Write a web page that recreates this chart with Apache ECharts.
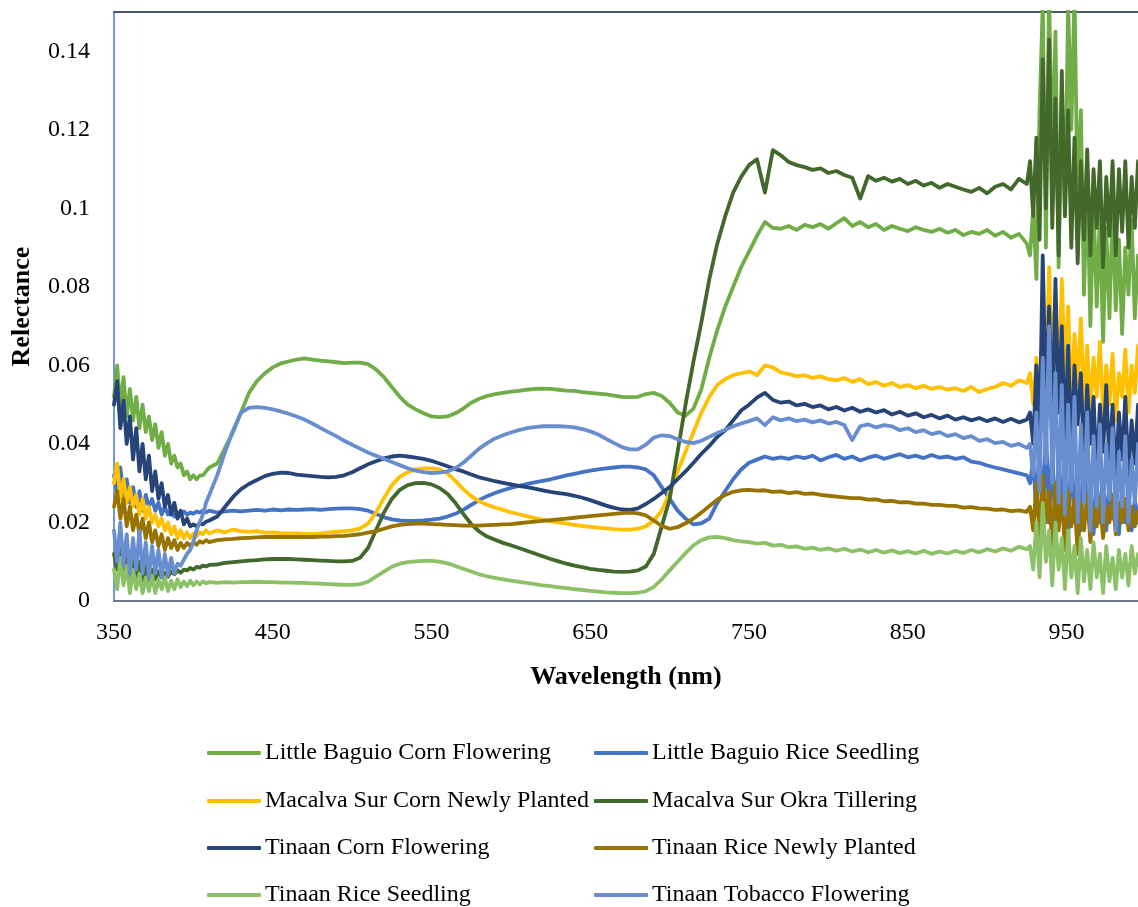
<!DOCTYPE html>
<html>
<head>
<meta charset="utf-8">
<script src="https://cdn.jsdelivr.net/npm/echarts@6/dist/echarts.min.js"></script>
<style>html,body{margin:0;padding:0;background:#fff}#chart{width:1138px;height:907px}</style>
</head>
<body>
<div id="chart"></div>
<script>
// Wavelengths (nm): dense steps in the noisy ends, 5 nm steps in the middle
const wavelengths = [
350,352,354,356,358,360,362,364,366,368,370,372,374,376,378,380,382,384,386,388,390,392,394,396,398,400,402,404,406,408,410,
415,420,425,430,435,440,445,450,455,460,465,470,475,480,485,490,495,500,505,510,
515,520,525,530,535,540,545,550,555,560,565,570,575,580,585,590,595,600,605,610,
615,620,625,630,635,640,645,650,655,660,665,670,675,680,685,690,695,700,705,710,
715,720,725,730,735,740,745,750,755,760,765,770,775,780,785,790,795,800,805,810,
815,820,825,830,835,840,845,850,855,860,865,870,875,880,885,890,895,900,905,910,
915,920,925,
927,929,931,933,935,937,939,941,943,945,947,949,951,953,955,957,959,961,963,965,
967,969,971,973,975,977,979,981,983,985,987,989,991,993,995
];

const seriesNames = [
  'Little Baguio Corn Flowering', 'Little Baguio Rice Seedling',
  'Macalva Sur Corn Newly Planted', 'Macalva Sur Okra Tillering',
  'Tinaan Corn Flowering', 'Tinaan Rice Newly Planted',
  'Tinaan Rice Seedling', 'Tinaan Tobacco Flowering'
];

const littleBaguioCornFlowering = [
.052,.060,.049,.057,.047,.054,.046,.052,.044,.050,
.043,.047,.041,.045,.039,.043,.037,.040,.035,.037,
.034,.035,.032,.033,.031,.032,.031,.032,.032,.033,
.034,
.035,.039,.043,.048,.053,.056,.058,.0595,.0605,.061,
.0615,.0618,.0615,.0612,.061,.0608,.0606,.0607,.0607,.0603,
.059,.057,.0545,.052,.050,.0488,.0478,.047,.0468,.047,
.0478,.049,.0505,.0515,.0522,.0527,.053,.0533,.0535,.0538,
.054,.0541,.054,.0538,.0536,.0535,.0532,.053,.0528,.0526,
.0523,.052,.0519,.052,.0527,.053,.0522,.0505,.048,.0472,
.049,.054,.062,.069,.075,.080,.085,.089,.093,.0965,
.095,.0948,.0955,.0945,.0958,.0952,.096,.0948,.0962,.0975,
.0955,.0965,.0952,.096,.0945,.0955,.0948,.0942,.0952,.0945,
.094,.0948,.0938,.0945,.0932,.094,.0935,.0945,.093,.094,
.0925,.0935,.091,
.088,.100,.082,.125,.152,.090,.155,.110,.145,.085,
.130,.098,.152,.120,.155,.100,.125,.078,.108,.070,
.102,.075,.098,.066,.095,.072,.100,.074,.092,.068,
.090,.078,.097,.072,.088
];

const littleBaguioRiceSeedling = [
.032,.028,.034,.026,.031,.025,.029,.024,.028,.023,
.027,.024,.026,.023,.025,.022,.024,.022,.023,.0215,
.0225,.022,.0228,.022,.0225,.0222,.0228,.0225,.023,.0226,
.023,
.0225,.0228,.023,.0228,.023,.0232,.023,.0233,.0231,.0233,
.0232,.0233,.0234,.0232,.0234,.0235,.0236,.0236,.0234,.023,
.0222,.0213,.0208,.0205,.0204,.0204,.0205,.0207,.021,.0215,
.0222,.0232,.0245,.0257,.0267,.0275,.0282,.0288,.0293,.0298,
.0302,.0306,.031,.0315,.032,.0324,.0328,.0332,.0335,.0338,
.034,.0342,.0342,.034,.0335,.032,.029,.026,.023,.021,
.0195,.0198,.021,.025,.028,.031,.0335,.0352,.036,.0368,
.0362,.0366,.0362,.0368,.0364,.037,.0358,.0366,.0372,.0362,
.0368,.0358,.0365,.037,.0362,.0368,.0374,.0366,.037,.0364,
.0372,.0365,.0368,.0362,.0366,.0355,.0352,.0345,.034,.0335,
.033,.0325,.032,
.030,.036,.022,.042,.018,.045,.020,.040,.016,.038,
.022,.035,.015,.040,.020,.034,.018,.036,.022,.032,
.017,.030,.020,.033,.018,.030,.021,.028,.017,.029,
.020,.027,.018,.026,.020
];

const macalvaSurCornNewlyPlanted = [
.030,.035,.026,.031,.025,.029,.024,.027,.022,.026,
.021,.024,.020,.022,.019,.021,.018,.020,.017,.019,
.016,.018,.016,.0175,.016,.0172,.0165,.0175,.017,.018,
.0172,
.018,.0175,.0182,.0178,.0176,.0178,.0174,.0175,.0173,.0172,
.0172,.0171,.017,.0172,.0174,.0176,.0178,.018,.0185,.0197,
.0225,.0262,.0295,.0316,.0328,.0335,.0338,.0338,.0335,.0325,
.0306,.0285,.0267,.0254,.0245,.0238,.0232,.0226,.0221,.0216,
.0211,.0207,.0203,.020,.0197,.0194,.0191,.0189,.0187,.0185,
.0183,.0182,.0182,.0184,.019,.0205,.023,.0275,.033,.038,
.043,.048,.052,.055,.0565,.0575,.058,.0585,.0575,.060,
.0595,.0582,.0578,.0572,.0575,.0568,.0572,.0565,.0562,.0568,
.0558,.0565,.0552,.0558,.0548,.0555,.0545,.055,.0542,.0548,
.054,.0545,.0538,.0542,.0535,.0545,.0532,.054,.0545,.0555,
.0548,.0562,.0555,
.058,.050,.062,.048,.070,.055,.085,.060,.078,.052,
.082,.058,.075,.050,.068,.055,.072,.050,.065,.048,
.062,.052,.066,.047,.060,.050,.063,.046,.058,.052,
.064,.048,.060,.053,.065
];

const macalvaSurOkraTillering = [
.012,.008,.014,.007,.012,.006,.011,.006,.010,.005,
.009,.005,.008,.0055,.0075,.006,.0072,.0062,.0075,.0068,
.0078,.0072,.008,.0078,.0084,.008,.0087,.0085,.009,.0088,
.0092,
.0093,.0097,.0099,.0101,.0103,.0104,.0106,.0107,.0107,.0107,
.0106,.0105,.0104,.0103,.0102,.0101,.0101,.0102,.011,.0135,
.018,.0225,.026,.0283,.0295,.030,.0301,.0297,.0288,.0273,
.025,.0222,.0196,.0177,.0164,.0156,.0148,.0142,.0135,.0128,
.0121,.0114,.0107,.0101,.0095,.009,.0086,.0082,.0079,.0077,
.0075,.0074,.0075,.0078,.0088,.012,.019,.026,.038,.050,
.061,.071,.082,.091,.098,.104,.108,.111,.1125,.104,
.1148,.1135,.1118,.111,.1105,.1098,.1102,.109,.1095,.1085,
.1078,.1025,.1082,.107,.1078,.1068,.1075,.1062,.107,.1058,
.1065,.1052,.1062,.1055,.1048,.1042,.1052,.1038,.1055,.1062,
.1048,.1075,.1062,
.112,.098,.118,.092,.138,.100,.143,.095,.128,.088,
.135,.098,.125,.090,.118,.086,.112,.092,.115,.088,
.110,.095,.112,.085,.108,.093,.112,.088,.110,.094,
.112,.090,.108,.095,.112
];

const tinaanCornFlowering = [
.050,.056,.044,.051,.040,.047,.036,.044,.033,.040,
.031,.037,.028,.033,.026,.030,.024,.027,.022,.025,
.021,.023,.0195,.021,.019,.0195,.019,.0198,.0195,.0202,
.0205,
.0215,.024,.0265,.0285,.0298,.0308,.0318,.0324,.0327,.0326,
.0322,.032,.0318,.0316,.0315,.0316,.032,.0328,.0338,.0348,
.0356,.0363,.0368,.037,.0368,.0365,.0362,.0357,.035,.0343,
.0336,.033,.0322,.0315,.031,.0305,.0301,.0297,.0293,.029,
.0286,.0282,.0278,.0275,.0272,.0268,.0263,.0257,.025,.0243,
.0237,.0233,.0232,.0236,.0247,.026,.0275,.029,.031,.033,
.0352,.0375,.0395,.0418,.0435,.046,.0485,.050,.0518,.053,
.0512,.0505,.0508,.0498,.0502,.0494,.0498,.0488,.0494,.0485,
.0492,.0482,.0488,.048,.0486,.0475,.0482,.0472,.0478,.0468,
.0474,.0465,.0472,.0462,.0468,.046,.0466,.0458,.0465,.0456,
.0464,.0455,.0462,
.048,.040,.060,.042,.088,.050,.075,.045,.082,.048,
.070,.040,.065,.038,.060,.045,.058,.035,.055,.040,
.052,.032,.050,.038,.055,.035,.050,.030,.048,.036,
.052,.032,.046,.035,.050
];

const tinaanRiceNewlyPlanted = [
.024,.028,.021,.026,.019,.024,.018,.022,.017,.021,
.016,.020,.015,.018,.014,.017,.013,.016,.0135,.0155,
.013,.0148,.0135,.0148,.014,.015,.0143,.0152,.0148,.0155,
.015,
.0155,.0157,.0158,.016,.0161,.0162,.0163,.0163,.0163,.0163,
.0163,.0163,.0163,.0164,.0164,.0165,.0166,.0168,.017,.0174,
.0178,.0184,.019,.0194,.0196,.0197,.0197,.0196,.0195,.0194,
.0193,.0192,.0192,.0192,.0193,.0194,.0195,.0196,.0198,.020,
.0202,.0204,.0206,.0208,.021,.0212,.0214,.0216,.0218,.022,
.0222,.0224,.0225,.0223,.0218,.0205,.0191,.0184,.0188,.0198,
.021,.0225,.0242,.0258,.027,.0278,.0282,.0283,.0281,.0282,
.0278,.0279,.0275,.0277,.0273,.0274,.027,.0268,.0266,.0264,
.0262,.0262,.0258,.0259,.0254,.0255,.0251,.0252,.0248,.0248,
.0245,.0245,.0242,.0242,.0238,.0239,.0236,.0235,.0232,.0233,
.0229,.0231,.0227,
.024,.018,.030,.016,.032,.020,.028,.014,.030,.018,
.027,.013,.028,.019,.026,.012,.025,.018,.027,.015,
.024,.019,.026,.016,.024,.020,.027,.017,.025,.020,
.026,.018,.024,.019,.023
];

const tinaanRiceSeedling = [
.008,.003,.011,.004,.009,.002,.008,.003,.007,.002,
.006,.0025,.0065,.002,.0055,.003,.006,.0025,.0052,.003,
.0055,.0035,.005,.0038,.0052,.004,.005,.0042,.005,.0045,
.0048,
.0046,.0048,.0047,.0048,.0048,.0049,.0048,.0048,.0047,.0047,
.0046,.0046,.0045,.0044,.0043,.0042,.0041,.0041,.0043,.0049,
.0062,.0075,.0087,.0095,.0099,.0101,.0102,.0102,.010,.0096,
.0089,.0082,.0075,.0068,.0063,.0059,.0055,.0052,.0049,.0046,
.0043,.004,.0038,.0035,.0033,.003,.0028,.0026,.0024,.0022,
.0021,.002,.002,.0021,.0025,.0036,.0055,.0078,.010,.0122,
.0142,.0155,.0162,.0163,.016,.0155,.0152,.015,.0146,.0148,
.0141,.0143,.0137,.0139,.0133,.0136,.013,.0134,.0128,.0133,
.0126,.0131,.0124,.013,.0123,.0129,.0122,.0127,.0121,.0128,
.012,.0126,.0121,.0128,.0122,.013,.0124,.0132,.0126,.0134,
.0128,.0138,.0132,
.014,.008,.020,.006,.025,.010,.018,.004,.020,.008,
.016,.003,.018,.006,.014,.002,.016,.005,.013,.003,
.015,.006,.012,.002,.014,.005,.011,.003,.013,.006,
.012,.004,.014,.007,.012
];

const tinaanTobaccoFlowering = [
.018,.010,.020,.009,.017,.007,.016,.008,.018,.007,
.015,.006,.014,.007,.013,.006,.012,.0065,.011,.007,
.0095,.009,.0105,.012,.013,.015,.018,.020,.022,.025,
.027,
.032,.038,.0435,.048,.0492,.0494,.0492,.0488,.0483,.0477,
.047,.0462,.0452,.0441,.043,.042,.0408,.0398,.0388,.0378,
.037,.0362,.0354,.0346,.0338,.0332,.0328,.0326,.0327,.033,
.0338,.0352,.037,.0388,.0402,.0414,.0422,.0429,.0435,.044,
.0443,.0445,.0445,.0445,.0444,.0442,.0438,.0432,.0424,.0413,
.0402,.0392,.0386,.0386,.0398,.0416,.0422,.042,.0412,.0405,
.0402,.0408,.0418,.0428,.0436,.0445,.0452,.0458,.0465,.0448,
.0468,.046,.0465,.0458,.0462,.0455,.046,.0452,.0456,.0448,
.041,.0445,.045,.0442,.0448,.0445,.0435,.044,.043,.0435,
.0425,.043,.042,.0425,.0415,.042,.0408,.0412,.0402,.0405,
.0395,.040,.039,
.040,.032,.048,.028,.062,.035,.070,.030,.058,.025,
.055,.022,.050,.028,.052,.020,.045,.025,.048,.018,
.042,.024,.045,.020,.040,.026,.044,.018,.038,.024,
.042,.020,.036,.025,.040
];

const xTickLabels = [350, 450, 550, 650, 750, 850, 950];
const yTickLabels = [0, 0.02, 0.04, 0.06, 0.08, 0.1, 0.12, 0.14];

const seriesValues = [
  littleBaguioCornFlowering, littleBaguioRiceSeedling,
  macalvaSurCornNewlyPlanted, macalvaSurOkraTillering,
  tinaanCornFlowering, tinaanRiceNewlyPlanted,
  tinaanRiceSeedling, tinaanTobaccoFlowering
];
const colors = ['#70AD47', '#4472C4', '#FFC000', '#43682B', '#264478', '#997300', '#8CC168', '#698ED0'];

const FONT = '"Liberation Serif", "Times New Roman", serif';

const chart = echarts.init(document.getElementById('chart'), null, { renderer: 'canvas' });

const series = seriesNames.map((name, i) => ({
  name: name,
  type: 'line',
  xAxisIndex: 0,
  yAxisIndex: 0,
  showSymbol: false,
  symbol: 'none',
  smooth: false,
  clip: true,
  color: colors[i],
  lineStyle: { width: 3.8, color: colors[i], cap: 'round', join: 'round' },
  emphasis: { disabled: true },
  data: wavelengths.map((w, j) => [w, seriesValues[i][j]])
}));

// one legend per entry: 2 columns x 4 rows
const legendRowsTop = [736, 784, 831, 878];
const legendColsLeft = [202, 589];
const legends = seriesNames.map((name, i) => ({
  orient: 'horizontal',
  left: legendColsLeft[i % 2],
  top: legendRowsTop[Math.floor(i / 2)],
  itemWidth: 54,
  itemHeight: 4,
  icon: 'roundRect',
  selectedMode: false,
  data: [name],
  textStyle: { fontFamily: FONT, fontSize: 24, color: '#000', padding: [0, 0, 0, -1] }
}));

chart.setOption({
  animation: false,
  backgroundColor: '#fff',
  color: colors,
  grid: { left: 114, top: 12, right: 0, bottom: 306, containLabel: false, outerBoundsMode: 'none' },
  legend: legends,
  xAxis: [
    {
      type: 'value',
      min: 350,
      max: 995,
      position: 'bottom',
      name: 'Wavelength (nm)',
      nameLocation: 'middle',
      nameGap: 63,
      nameTextStyle: { fontFamily: FONT, fontSize: 26, fontWeight: 'bold', color: '#000' },
      axisLine: { show: true, onZero: false, lineStyle: { color: '#6d7785', width: 2 } },
      axisTick: { show: false },
      splitLine: { show: false },
      axisLabel: {
        customValues: xTickLabels,
        fontFamily: FONT, fontSize: 24, color: '#000', margin: 20
      }
    },
    {
      type: 'value',
      min: 350,
      max: 995,
      position: 'top',
      axisLine: { show: true, onZero: false, lineStyle: { color: '#4b5565', width: 2 } },
      axisTick: { show: false },
      axisLabel: { show: false },
      splitLine: { show: false }
    }
  ],
  yAxis: {
    type: 'value',
    min: 0,
    max: 0.15,
    name: 'Relectance',
    nameLocation: 'middle',
    nameRotate: 90,
    nameGap: 79,
    nameTextStyle: { fontFamily: FONT, fontSize: 26, fontWeight: 'bold', color: '#000' },
    axisLine: { show: true, onZero: false, lineStyle: { color: '#7298d8', width: 2 } },
    axisTick: { show: false },
    splitLine: { show: false },
    axisLabel: {
      customValues: yTickLabels,
      fontFamily: FONT, fontSize: 24, color: '#000', margin: 24,
      formatter: v => String(Math.round(v * 100) / 100)
    }
  },
  series: series
});
</script>
</body>
</html>
